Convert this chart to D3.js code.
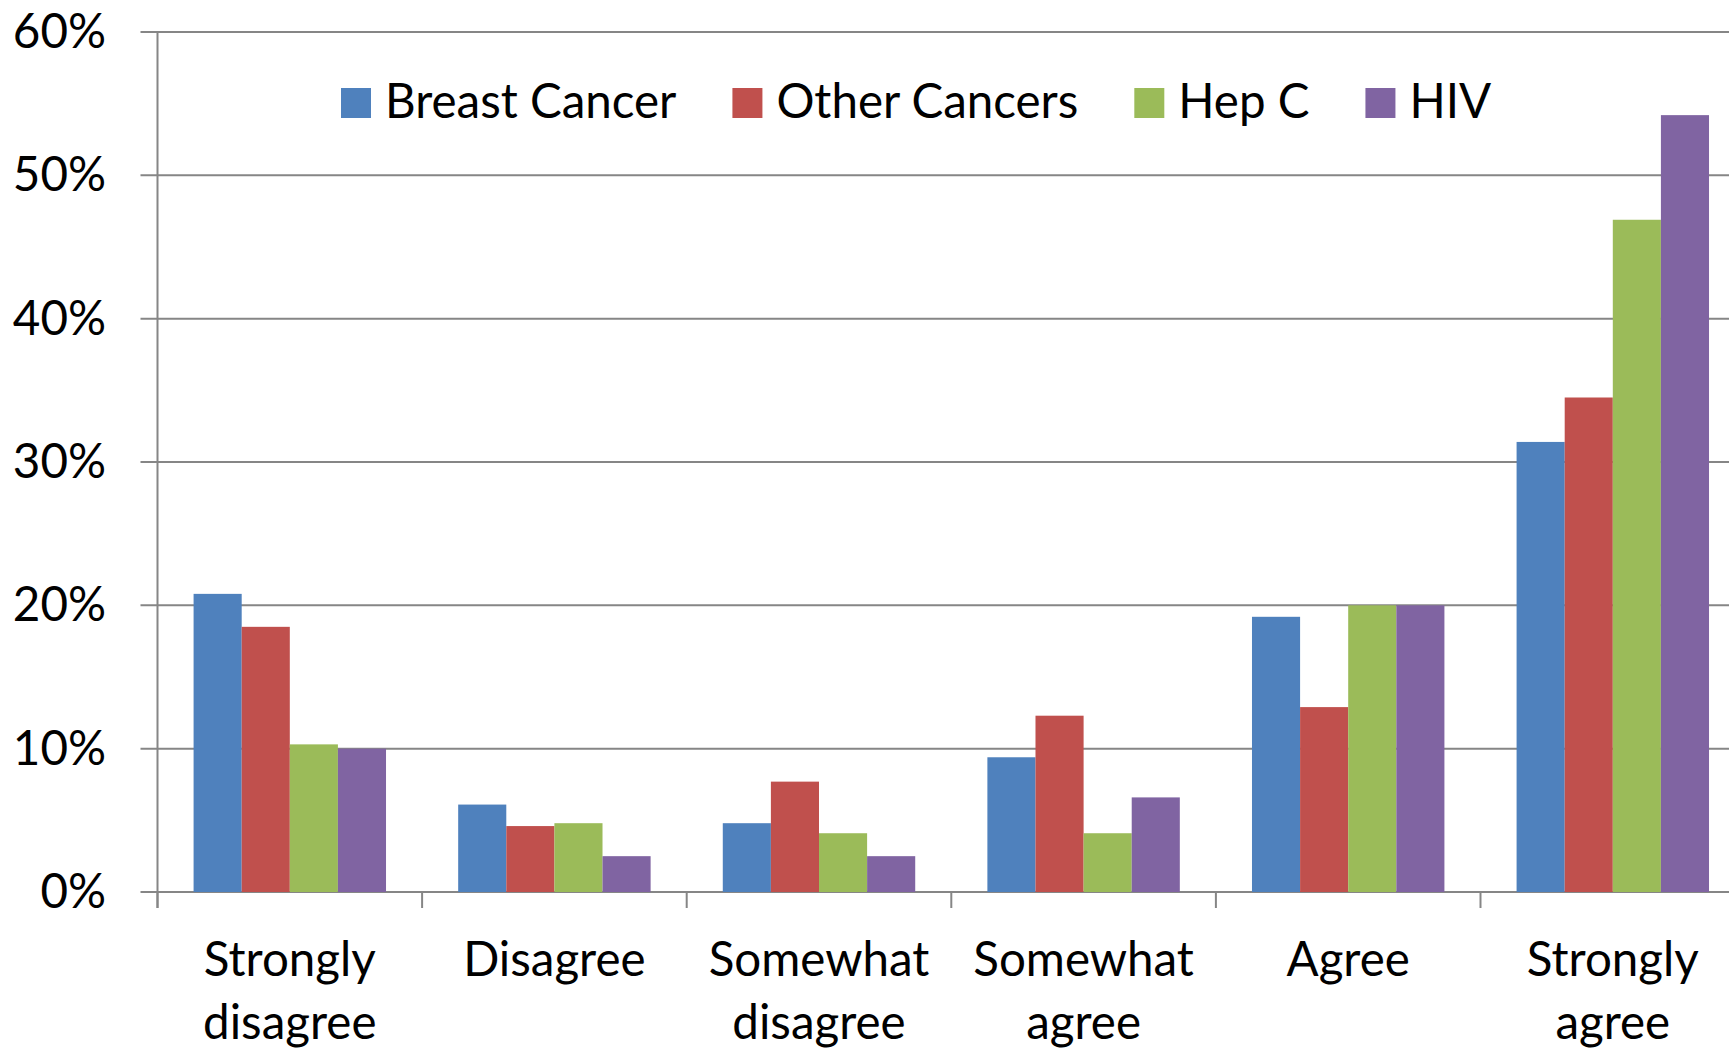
<!DOCTYPE html>
<html>
<head>
<meta charset="utf-8">
<script src="https://cdn.jsdelivr.net/npm/d3@7"></script>
<style>
  html, body { margin: 0; padding: 0; background: #fff; }
  svg { display: block; }
  text { font-family: Lato, "Open Sans", sans-serif; fill: #000; }
</style>
</head>
<body>
<div id="chart"></div>
<script>
// data (percent)
var categories = [["Strongly", "disagree"], ["Disagree"], ["Somewhat", "disagree"], ["Somewhat", "agree"], ["Agree"], ["Strongly", "agree"]];
var seriesNames = ["Breast Cancer", "Other Cancers", "Hep C", "HIV"];
var seriesColors = ["#4F81BD", "#C0504D", "#9BBB59", "#8064A2"];
var breastCancer = [20.8, 6.1, 4.8, 9.4, 19.2, 31.4];
var otherCancers = [18.5, 4.6, 7.7, 12.3, 12.9, 34.5];
var hepC = [10.3, 4.8, 4.1, 4.1, 20.0, 46.9];
var hiv = [10.0, 2.5, 2.5, 6.6, 20.0, 54.2];
var yTicks = [0, 10, 20, 30, 40, 50, 60];

var series = [breastCancer, otherCancers, hepC, hiv];

var width = 1729, height = 1052;
var plotLeft = 157.5, catW = 264.6, plotTop = 32, plotBottom = 892;
var fontSize = 47.5;

var svg = d3.select("#chart").append("svg")
    .attr("width", width)
    .attr("height", height);

var catIdx = d3.range(categories.length);

// excel style: gap width 150% between groups
var x0 = d3.scaleBand()
    .domain(catIdx)
    .range([plotLeft, plotLeft + catW * categories.length])
    .paddingInner(1.5 / 5.5)
    .paddingOuter(0.75 / 5.5);

var x1 = d3.scaleBand()
    .domain(d3.range(series.length))
    .range([0, x0.bandwidth()]);

var y = d3.scaleLinear()
    .domain([0, 60])
    .range([plotBottom, plotTop]);

//gridlines
svg.append("g")
  .selectAll("line")
  .data(yTicks)
  .enter()
  .append("line")
    .attr("x1", plotLeft - 17)
    .attr("x2", width)
    .attr("y1", d => y(d))
    .attr("y2", d => y(d))
    .attr("stroke", "#868686")
    .attr("stroke-width", 2);

//y tick labels
svg.append("g")
  .selectAll("text")
  .data(yTicks)
  .enter()
  .append("text")
    .attr("x", 106)
    .attr("y", d => y(d) + 16)
    .attr("text-anchor", "end")
    .style("font-size", fontSize + "px")
    .text(d => d + "%");

//bars
var groups = svg.append("g")
  .selectAll("g")
  .data(catIdx)
  .enter()
  .append("g")
    .attr("transform", d => "translate(" + x0(d) + ",0)");

groups.selectAll("rect")
  .data(c => series.map((s, i) => ({s: i, v: s[c]})))
  .enter()
  .append("rect")
    .attr("x", d => x1(d.s))
    .attr("width", x1.bandwidth())
    .attr("y", d => y(d.v))
    .attr("height", d => y(0) - y(d.v))
    .attr("fill", d => seriesColors[d.s]);

//y axis line
svg.append("line")
    .attr("x1", plotLeft).attr("x2", plotLeft)
    .attr("y1", plotTop).attr("y2", plotBottom + 16)
    .attr("stroke", "#868686")
    .attr("stroke-width", 2);

//category ticks
svg.append("g")
  .selectAll("line")
  .data(d3.range(categories.length + 1))
  .enter()
  .append("line")
    .attr("x1", d => plotLeft + d * catW)
    .attr("x2", d => plotLeft + d * catW)
    .attr("y1", plotBottom)
    .attr("y2", plotBottom + 16)
    .attr("stroke", "#868686")
    .attr("stroke-width", 2);

//category labels
var catLabels = svg.append("g")
  .selectAll("text")
  .data(catIdx)
  .enter()
  .append("text")
    .attr("text-anchor", "middle")
    .style("font-size", fontSize + "px")
    .attr("x", d => plotLeft + (d + 0.5) * catW)
    .attr("y", 976);

catLabels.selectAll("tspan")
  .data(d => categories[d].map(t => ({t: t, x: plotLeft + (d + 0.5) * catW})))
  .enter()
  .append("tspan")
    .attr("x", d => d.x)
    .attr("dy", (d, i) => i ? 63 : 0)
    .text(d => d.t);

//legend
var legend = svg.append("g");
var lx = 341;
seriesNames.forEach(function(name, i) {
  legend.append("rect")
    .attr("x", lx).attr("y", 88)
    .attr("width", 30).attr("height", 30)
    .attr("fill", seriesColors[i]);
  var t = legend.append("text")
    .attr("x", lx + 44)
    .attr("y", 117.5)
    .style("font-size", fontSize + "px")
    .text(name);
  lx = lx + 44 + t.node().getComputedTextLength() + 56;
});
</script>
</body>
</html>
